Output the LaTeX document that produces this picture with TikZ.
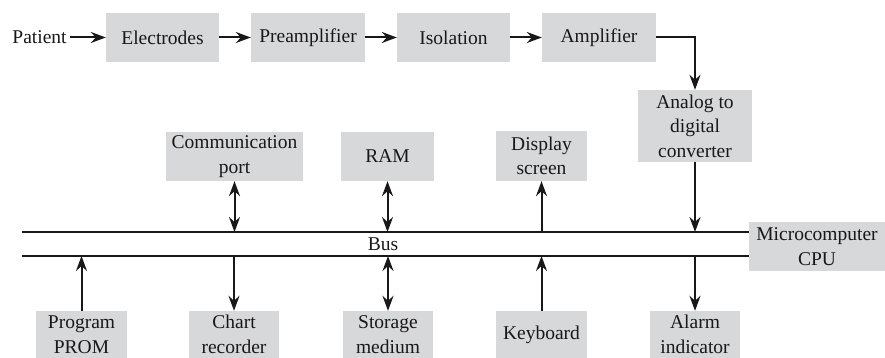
\documentclass[tikz,border=0pt]{standalone}
\usepackage{fontspec}
\setmainfont{Liberation Serif}
\usetikzlibrary{arrows.meta}
\definecolor{boxgray}{HTML}{D7D8DA}
\definecolor{ink}{HTML}{1A1718}
\begin{document}
\begin{tikzpicture}[x=1pt,y=-1pt,
  every node/.style={text=ink,font=\fontsize{19.5}{24.5}\selectfont},
  blk/.style={fill=boxgray,draw=none,align=center,inner sep=0pt,minimum height=49pt},
  tip/.tip={Stealth[length=15pt,width=11pt,inset=5pt]},
  arr/.style={draw=ink,line width=2pt,-tip},
  darr/.style={draw=ink,line width=2pt,tip-tip},
  busline/.style={draw=ink,line width=2.2pt}]
\useasboundingbox (0,0) rectangle (885,358);
% top chain
\node (pat) at (39.5,37.5) {Patient};
\node[blk,minimum width=113pt] (ele) at (162.5,37.5) {Electrodes};
\node[blk,minimum width=114pt] (pre) at (308,37.5) {Preamplifier};
\node[blk,minimum width=113pt] (iso) at (453.5,37.5) {Isolation};
\node[blk,minimum width=114pt] (amp) at (599,37.5) {Amplifier};
\node[blk,minimum width=114pt,minimum height=72pt] (adc) at (695,126) {Analog to\\digital\\converter};
% upper peripherals
\node[blk,minimum width=137pt] (com) at (234.5,156.5) {Communication\\port};
\node[blk,minimum width=93pt] (ram) at (387.5,156.5) {RAM};
\node[blk,minimum width=91pt,minimum height=50pt] (dis) at (541.5,156) {Display\\screen};
% CPU
\node[blk,minimum width=136pt] (cpu) at (817,246.5) {Microcomputer\\CPU};
% bus
\coordinate (busTL) at (22,232);
\coordinate (busTR) at (749,232);
\coordinate (busBL) at (22,256);
\coordinate (busBR) at (749,256);
\draw[busline] (busTL) -- (busTR);
\draw[busline] (busBL) -- (busBR);
\node (bus) at (383,244) {Bus};
% lower peripherals
\node[blk,minimum width=91pt,minimum height=47pt] (prom) at (81.5,334.5) {Program\\PROM};
\node[blk,minimum width=90pt,minimum height=47pt] (chart) at (234,334.5) {Chart\\recorder};
\node[blk,minimum width=90pt,minimum height=47pt] (sto) at (388,334.5) {Storage\\medium};
\node[blk,minimum width=91pt,minimum height=47pt] (key) at (541.5,334.5) {Keyboard};
\node[blk,minimum width=90pt,minimum height=47pt] (alm) at (695,334.5) {Alarm\\indicator};
% bus tap points
\coordinate (tCom) at (234.5,232);
\coordinate (tRam) at (387.5,232);
\coordinate (tDis) at (541.5,232);
\coordinate (tAdc) at (695,232);
\coordinate (bProm) at (81.5,256);
\coordinate (bChart) at (234,256);
\coordinate (bSto) at (388,256);
\coordinate (bKey) at (541.5,256);
\coordinate (bAlm) at (695,256);
% connectors
\draw[arr] (pat) -- (ele);
\draw[arr] (ele) -- (pre);
\draw[arr] (pre) -- (iso);
\draw[arr] (iso) -- (amp);
\draw[arr] (amp.east) -| (adc.north);
\draw[arr] (adc.south) -- (tAdc);
\draw[darr] (com.south) -- (tCom);
\draw[darr] (ram.south) -- (tRam);
\draw[arr] (tDis) -- (dis.south);
\draw[arr] (prom.north) -- (bProm);
\draw[arr] (bChart) -- (chart.north);
\draw[darr] (sto.north) -- (bSto);
\draw[arr] (key.north) -- (bKey);
\draw[arr] (bAlm) -- (alm.north);
\end{tikzpicture}
\end{document}
